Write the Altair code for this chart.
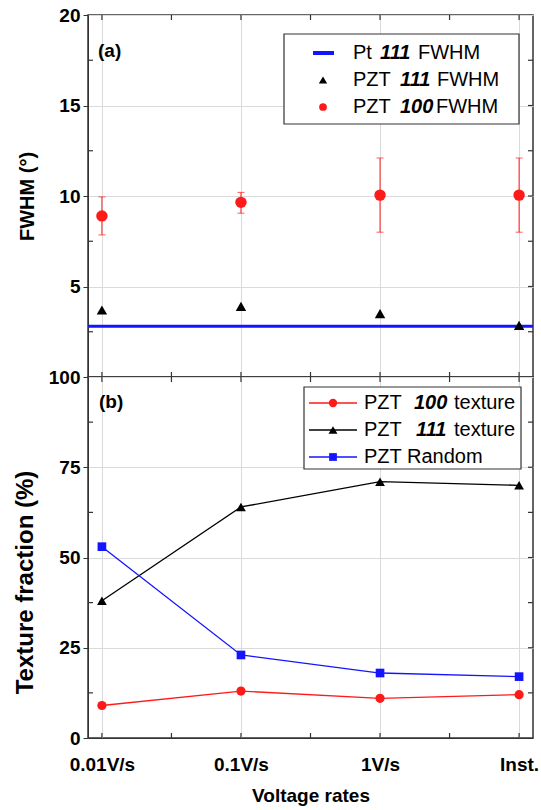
import json
import altair as alt
import pandas as pd

# ---------------- data ----------------
categories = ["0.01V/s", "0.1V/s", "1V/s", "Inst."]
positions = [0, 1, 2, 3]

pt111_fwhm = [2.8]
pzt111_fwhm = [3.7, 3.9, 3.5, 2.85]
pzt100_fwhm = [8.9, 9.65, 10.05, 10.05]
pzt100_fwhm_low = [7.85, 9.05, 8.0, 8.0]
pzt100_fwhm_high = [9.95, 10.2, 12.1, 12.1]

texture100 = [9, 13, 11, 12]
texture111 = [38, 64, 71, 70]
texture_random = [53, 23, 18, 17]

# tick layout (axis furniture)
x_ticks = [0, 0.5, 1, 1.5, 2, 2.5, 3]
y_ticks_top = [2.5, 5, 7.5, 10, 12.5, 15, 17.5]
y_minor_top = [2.5, 7.5, 12.5, 17.5]
y_ticks_bot = [12.5, 25, 37.5, 50, 62.5, 75, 87.5]
y_minor_bot = [12.5, 37.5, 62.5, 87.5]

# ---------------- style ----------------
FONT = "Liberation Sans"
W = 445
H1 = 362
H2 = 361
RED = "#ff1a1a"
BLUE = "#1414ff"
BLACK = "#000000"
GRID = "#dadada"
AX = "#333333"
TK = 5

label_expr = "%s[datum.value]" % json.dumps(categories)
xscale = alt.Scale(domain=[-0.1, 3.1], nice=False, zero=False)
yscale_top = alt.Scale(domain=[0, 20], nice=False, zero=False)
yscale_bot = alt.Scale(domain=[0, 100], nice=False, zero=False)

one = pd.DataFrame({"k": [0]})


def txt(s, x, y, size=20, weight="normal", style="normal", color="black"):
    return alt.Chart(one).mark_text(align="left", baseline="middle", font=FONT, fontSize=size,
                                    fontWeight=weight, fontStyle=style, color=color).encode(
        x=alt.value(x), y=alt.value(y), text=alt.value(s))


def box(x1, x2, y1, y2):
    return alt.Chart(one).mark_rect(fill="white", stroke=AX, strokeWidth=1.2).encode(
        x=alt.value(x1), x2=alt.value(x2), y=alt.value(y1), y2=alt.value(y2))


def frame_ticks(x_axis, y_axis, yscale, y_all, y_minor, H):
    xt = pd.DataFrame({"t": x_ticks})
    ya = pd.DataFrame({"t": y_all})
    ym = pd.DataFrame({"t": y_minor})
    xe = alt.X("t:Q", scale=xscale, axis=x_axis)
    layers = [
        alt.Chart(xt).mark_rule(color=AX, strokeWidth=1.2).encode(
            x=xe, y=alt.value(H - TK), y2=alt.value(H)),
        alt.Chart(xt).mark_rule(color=AX, strokeWidth=1.2).encode(
            x=xe, y=alt.value(0), y2=alt.value(TK)),
        alt.Chart(ym).mark_rule(color=AX, strokeWidth=1.2).encode(
            y=alt.Y("t:Q", scale=yscale, axis=y_axis), x=alt.value(0), x2=alt.value(TK)),
        alt.Chart(ya).mark_rule(color=AX, strokeWidth=1.2).encode(
            y=alt.Y("t:Q", scale=yscale, axis=y_axis), x=alt.value(W - TK), x2=alt.value(W)),
    ]
    return layers


# ---------------- top panel ----------------
top_df = pd.DataFrame({
    "pos": positions,
    "cat": categories,
    "f111": pzt111_fwhm,
    "f100": pzt100_fwhm,
    "lo": pzt100_fwhm_low,
    "hi": pzt100_fwhm_high,
})
pt_df = pd.DataFrame({"pt": pt111_fwhm})

x_axis_top = alt.Axis(values=positions, labels=False, ticks=False, domain=False,
                      grid=True, gridColor=GRID, title=None)
x_top = alt.X("pos:Q", scale=xscale, axis=x_axis_top)
y_axis_top = alt.Axis(values=[5, 10, 15, 20], title="FWHM (°)", grid=True, gridColor=GRID,
                      tickSize=5, labelFontSize=19, titleFontSize=20, labelPadding=3,
                      titleX=-51, domainColor=AX, tickColor=AX)

base_top = alt.Chart(top_df)

pt_line = alt.Chart(pt_df).mark_rule(color=BLUE, strokeWidth=3).encode(
    y=alt.Y("pt:Q", scale=yscale_top, axis=y_axis_top))
err = base_top.mark_rule(color=RED, strokeWidth=1).encode(
    x=x_top, y=alt.Y("lo:Q", scale=yscale_top, axis=y_axis_top), y2="hi:Q")
cap_lo = base_top.mark_tick(color=RED, orient="horizontal", size=7, thickness=1).encode(
    x=x_top, y=alt.Y("lo:Q", scale=yscale_top, axis=y_axis_top))
cap_hi = base_top.mark_tick(color=RED, orient="horizontal", size=7, thickness=1).encode(
    x=x_top, y=alt.Y("hi:Q", scale=yscale_top, axis=y_axis_top))
pts100 = base_top.mark_point(shape="circle", filled=True, color=RED, size=130, opacity=1).encode(
    x=x_top, y=alt.Y("f100:Q", scale=yscale_top, axis=y_axis_top))
pts111 = base_top.mark_point(shape="triangle-up", filled=True, color=BLACK, size=110, opacity=1).encode(
    x=x_top, y=alt.Y("f111:Q", scale=yscale_top, axis=y_axis_top))

top_legend = [
    box(196, 431, 19, 109),
    alt.Chart(one).mark_rule(color=BLUE, strokeWidth=4).encode(
        x=alt.value(225), x2=alt.value(246), y=alt.value(38)),
    alt.Chart(one).mark_point(shape="triangle-up", filled=True, color=BLACK, size=70, opacity=1).encode(
        x=alt.value(235), y=alt.value(65)),
    alt.Chart(one).mark_point(shape="circle", filled=True, color=RED, size=60, opacity=1).encode(
        x=alt.value(235), y=alt.value(92)),
    txt("Pt", 265, 38), txt("111", 292, 38, weight="bold", style="italic"), txt("FWHM", 330, 38),
    txt("PZT", 265, 65), txt("111", 312, 65, weight="bold", style="italic"), txt("FWHM", 349, 65),
    txt("PZT", 265, 92), txt("100", 312, 92, weight="bold", style="italic"), txt("FWHM", 348, 92),
    txt("(a)", 10, 36, size=19, weight="bold"),
]

top = alt.layer(
    *frame_ticks(x_axis_top, y_axis_top, yscale_top, y_ticks_top, y_minor_top, H1),
    pt_line, err, cap_lo, cap_hi, pts111, pts100, *top_legend
).properties(width=W, height=H1)

# ---------------- bottom panel ----------------
bot_df = pd.DataFrame({
    "pos": positions,
    "t100": texture100,
    "t111": texture111,
    "trand": texture_random,
})
x_axis_bot = alt.Axis(values=positions, labelExpr=label_expr, ticks=False, domain=True,
                      grid=True, gridColor=GRID, title="Voltage rates",
                      labelFontSize=19, titleFontSize=19, labelPadding=17, titlePadding=12,
                      domainColor=AX)
x_bot = alt.X("pos:Q", scale=xscale, axis=x_axis_bot)
y_axis_bot = alt.Axis(values=[0, 25, 50, 75, 100], title="Texture fraction (%)", grid=True,
                      gridColor=GRID, tickSize=5, labelFontSize=19, titleFontSize=24,
                      labelPadding=3, titleX=-51, titleY=205, domainColor=AX, tickColor=AX)

base_bot = alt.Chart(bot_df)
layers_bot = []
for field, color, shape, size in [("t100", RED, "circle", 85), ("t111", BLACK, "triangle-up", 95),
                                  ("trand", BLUE, "square", 75)]:
    y = alt.Y(f"{field}:Q", scale=yscale_bot, axis=y_axis_bot)
    layers_bot.append(base_bot.mark_line(color=color, strokeWidth=1.3).encode(x=x_bot, y=y))
    layers_bot.append(base_bot.mark_point(shape=shape, filled=True, color=color, size=size,
                                          opacity=1).encode(x=x_bot, y=y))

bot_legend = [
    box(216, 433, 10, 92),
    alt.Chart(one).mark_rule(color=RED, strokeWidth=1.3).encode(
        x=alt.value(221), x2=alt.value(269), y=alt.value(26)),
    alt.Chart(one).mark_point(shape="circle", filled=True, color=RED, size=70, opacity=1).encode(
        x=alt.value(245), y=alt.value(26)),
    alt.Chart(one).mark_rule(color=BLACK, strokeWidth=1.3).encode(
        x=alt.value(221), x2=alt.value(269), y=alt.value(53)),
    alt.Chart(one).mark_point(shape="triangle-up", filled=True, color=BLACK, size=80, opacity=1).encode(
        x=alt.value(245), y=alt.value(53)),
    alt.Chart(one).mark_rule(color=BLUE, strokeWidth=1.3).encode(
        x=alt.value(221), x2=alt.value(269), y=alt.value(80)),
    alt.Chart(one).mark_point(shape="square", filled=True, color=BLUE, size=60, opacity=1).encode(
        x=alt.value(245), y=alt.value(80)),
    txt("PZT", 276, 26), txt("100", 326, 26, weight="bold", style="italic"), txt("texture", 366, 26),
    txt("PZT", 276, 53), txt("111", 328, 53, weight="bold", style="italic"), txt("texture", 366, 53),
    txt("PZT", 276, 80), txt("Random", 319, 80),
    txt("(b)", 11, 25, size=19, weight="bold"),
]

bottom = alt.layer(
    *frame_ticks(x_axis_bot, y_axis_bot, yscale_bot, y_ticks_bot, y_minor_bot, H2),
    *layers_bot, *bot_legend
).properties(width=W, height=H2)

chart = alt.VConcatChart(vconcat=[top, bottom], spacing=0, bounds="flush").properties(
    padding={"left": 12, "top": 5, "right": 0, "bottom": 0}
).configure_view(stroke=AX, strokeWidth=1.5).configure_axis(
    labelFont=FONT, titleFont=FONT, labelFontWeight="bold", titleFontWeight="bold",
    labelColor="black", titleColor="black"
)

chart.save("out.html", embed_options={"renderer": "svg", "actions": False})
